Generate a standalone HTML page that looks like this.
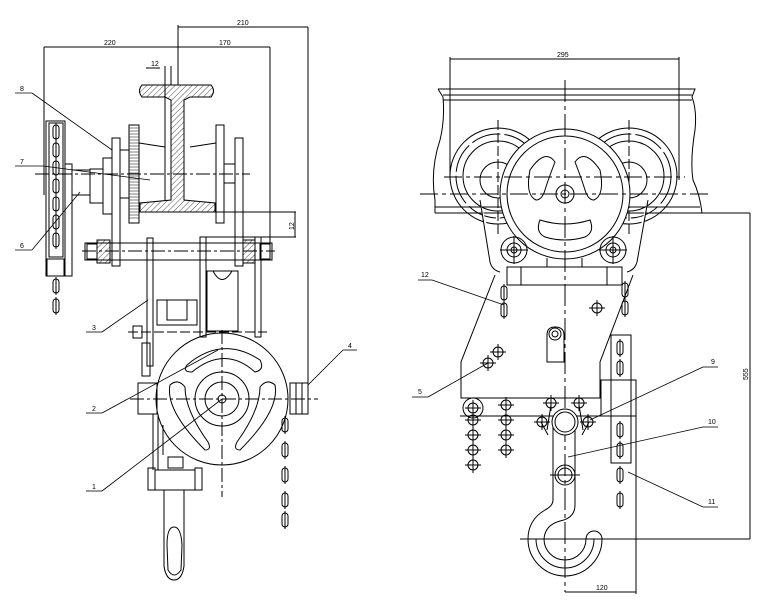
<!DOCTYPE html>
<html><head><style>
html,body{margin:0;padding:0;background:#fff;}
svg{display:block}
text{font-family:"Liberation Sans",sans-serif;font-size:7px;fill:#000}
</style></head><body>
<svg width="767" height="601" viewBox="0 0 767 601" xmlns="http://www.w3.org/2000/svg" fill="none" stroke="#000" stroke-width="1">
<defs>
<pattern id="h" width="4" height="4" patternUnits="userSpaceOnUse" patternTransform="rotate(45)"><line x1="0" y1="0" x2="0" y2="4" stroke="#000" stroke-width="0.7"/></pattern>
<g id="lnk"><rect x="-3" y="-7" width="6" height="14" rx="3"/><line x1="0" y1="-9" x2="0" y2="9"/></g>
<g id="bl"><circle r="5"/><line x1="-8" y1="0" x2="8" y2="0"/><line x1="0" y1="-8" x2="0" y2="8"/></g>
</defs>
<!-- ===== LEFT VIEW ===== -->
<line x1="178" y1="27" x2="308" y2="27"/><line x1="178" y1="25" x2="178" y2="85"/><line x1="308" y1="27" x2="308" y2="414"/>
<line x1="44" y1="47" x2="270" y2="47"/><line x1="44" y1="47" x2="44" y2="195"/><line x1="270" y1="47" x2="270" y2="250"/>
<text x="237" y="25" stroke="none">210</text><text x="104" y="45" stroke="none">220</text><text x="219" y="45" stroke="none">170</text>
<text x="151" y="66" stroke="none">12</text><line x1="146" y1="68" x2="160" y2="68"/>
<line x1="165" y1="66" x2="165" y2="200"/><line x1="171" y1="66" x2="171" y2="85"/>
<!-- I beam -->
<path d="M142 85 L211 85 Q216 91 211 97 L190 97 L184 100 L184 200 L215 203 L215 212 L140 212 L140 203 L171 200 L171 100 L165 97 L142 97 Q137 91 142 85Z" fill="url(#h)"/>
<line x1="139" y1="143" x2="165" y2="147"/><line x1="190" y1="147" x2="216" y2="143"/>
<!-- gear & plates -->
<rect x="129" y="125" width="10" height="98"/>
<path stroke-width="0.5" d="M129 128h10M129 131h10M129 134h10M129 137h10M129 140h10M129 143h10M129 146h10M129 149h10M129 152h10M129 155h10M129 158h10M129 161h10M129 164h10M129 167h10M129 170h10M129 173h10M129 176h10M129 179h10M129 182h10M129 185h10M129 188h10M129 191h10M129 194h10M129 197h10M129 200h10M129 203h10M129 206h10M129 209h10M129 212h10M129 215h10M129 218h10"/>
<rect x="112" y="138" width="8" height="128"/>
<rect x="103" y="158" width="9" height="56"/>
<rect x="90" y="169" width="13" height="34"/>
<rect x="216" y="125" width="8" height="98"/>
<rect x="235" y="138" width="8" height="128"/>
<rect x="224" y="164" width="11" height="19"/>
<line x1="120" y1="150" x2="129" y2="150"/><line x1="120" y1="198" x2="129" y2="198"/>
<line x1="72" y1="170" x2="90" y2="170"/><line x1="72" y1="195" x2="90" y2="195"/>
<line x1="35" y1="174" x2="250" y2="174" stroke-dasharray="14 3 3 3"/>
<line x1="215" y1="212" x2="296" y2="212"/><line x1="205" y1="237" x2="296" y2="237"/><line x1="295" y1="212" x2="295" y2="237"/>
<text x="294" y="230" stroke="none" transform="rotate(-90 294 230)">12</text>
<!-- left chain wheel -->
<rect x="46" y="121" width="19" height="155"/><rect x="65" y="164" width="7" height="112"/>
<rect x="47" y="259" width="17" height="17"/>
<rect x="49" y="123" width="14" height="134"/>
<use href="#lnk" x="56" y="132"/><use href="#lnk" x="56" y="150"/><use href="#lnk" x="56" y="168"/><use href="#lnk" x="56" y="186"/><use href="#lnk" x="56" y="204"/><use href="#lnk" x="56" y="222"/><use href="#lnk" x="56" y="240"/>
<use href="#lnk" x="56" y="286"/><use href="#lnk" x="56" y="306"/>
<!-- axle -->
<rect x="85" y="243" width="187" height="17"/>
<rect x="97" y="240" width="13" height="23" fill="url(#h)"/><rect x="243" y="240" width="12" height="23" fill="url(#h)"/>
<rect x="87" y="244" width="10" height="15"/><rect x="260" y="244" width="10" height="15"/>
<line x1="82" y1="251" x2="275" y2="251" stroke-dasharray="14 3 3 3"/>
<!-- hangers -->
<rect x="147" y="238" width="6" height="128"/><rect x="200" y="237" width="6" height="100"/><rect x="255" y="237" width="6" height="100"/>
<rect x="207" y="271" width="31" height="60"/><path d="M213 271 Q222 288 232 271"/>
<rect x="157" y="300" width="40" height="25"/><rect x="167" y="300" width="20" height="20"/>
<rect x="142" y="343" width="8" height="33"/>
<line x1="128" y1="332" x2="267" y2="332" stroke-dasharray="10 3"/>
<rect x="133" y="326" width="9" height="12"/>
<!-- big wheel -->
<circle cx="222" cy="399" r="66"/>
<circle cx="222" cy="399" r="27"/><circle cx="222" cy="399" r="17"/><circle cx="222" cy="399" r="4"/>
<path d="M187 365 Q222 335 260 360 Q265 370 255 372 Q225 345 192 372 Q182 372 187 365Z"/>
<path d="M170 385 Q165 410 205 450 Q212 450 208 442 Q185 410 185 387 Q178 378 170 385Z"/>
<path d="M275 385 Q280 410 240 450 Q233 450 237 442 Q260 410 260 387 Q267 378 275 385Z"/>
<rect x="138" y="383" width="19" height="31"/><rect x="290" y="383" width="18" height="31"/>
<line x1="296" y1="383" x2="296" y2="414"/><line x1="302" y1="383" x2="302" y2="414"/>
<line x1="130" y1="399" x2="318" y2="399" stroke-dasharray="14 3 3 3"/>
<line x1="222" y1="330" x2="222" y2="497" stroke-dasharray="14 3 3 3"/>
<line x1="153" y1="414" x2="153" y2="470"/><line x1="158" y1="414" x2="158" y2="470"/><line x1="163" y1="425" x2="163" y2="455"/>
<!-- right chain -->
<use href="#lnk" x="285" y="425"/><use href="#lnk" x="285" y="450"/><use href="#lnk" x="285" y="475"/><use href="#lnk" x="285" y="500"/><use href="#lnk" x="285" y="520"/>
<!-- hook block bottom -->
<rect x="155" y="470" width="40" height="20"/><rect x="148" y="468" width="7" height="22"/><rect x="195" y="468" width="7" height="22"/>
<rect x="168" y="457" width="15" height="11"/>
<path d="M164 490 L164 566 Q166 580 174 580 Q182 580 184 566 L184 490"/>
<path d="M167 545 Q167 527 174 527 Q181 527 182 545 L181 570 Q174 580 168 570Z"/>
<!-- leaders left -->
<g stroke-width="0.8">
<line x1="15" y1="93" x2="32" y2="93"/><line x1="32" y1="93" x2="112" y2="150"/>
<line x1="15" y1="166" x2="43" y2="166"/><line x1="43" y1="166" x2="150" y2="180"/>
<line x1="15" y1="250" x2="32" y2="250"/><line x1="32" y1="250" x2="80" y2="192"/>
<line x1="86" y1="332" x2="102" y2="332"/><line x1="102" y1="332" x2="148" y2="300"/>
<line x1="86" y1="413" x2="102" y2="413"/><line x1="102" y1="413" x2="218" y2="350"/>
<line x1="86" y1="491" x2="102" y2="491"/><line x1="102" y1="491" x2="222" y2="399"/>
<line x1="343" y1="350" x2="357" y2="350"/><line x1="343" y1="350" x2="308" y2="385"/>
</g>
<text x="20" y="91" stroke="none">8</text><text x="20" y="164" stroke="none">7</text><text x="20" y="248" stroke="none">6</text>
<text x="92" y="330" stroke="none">3</text><text x="92" y="411" stroke="none">2</text><text x="92" y="489" stroke="none">1</text>
<text x="348" y="348" stroke="none">4</text>

<!-- ===== RIGHT VIEW ===== -->
<line x1="450" y1="59" x2="679" y2="59"/><line x1="450" y1="57" x2="450" y2="180"/><line x1="679" y1="57" x2="679" y2="180"/>
<text x="557" y="57" stroke="none">295</text>
<!-- rail -->
<path d="M438 89 L695 89 L692 97 Q697 110 695 130 Q690 160 693 180 Q700 195 702 213"/>
<path d="M438 89 L443 97 Q445 120 440 140 Q430 170 435 200 L435 213"/>
<line x1="443" y1="95" x2="692" y2="95"/><line x1="443" y1="100" x2="692" y2="100"/>
<line x1="435" y1="207" x2="700" y2="207"/><line x1="435" y1="213" x2="750" y2="213"/>
<!-- rollers -->
<circle cx="498" cy="176" r="48"/><circle cx="498" cy="176" r="42" stroke-dasharray="30 4"/><circle cx="498" cy="176" r="35"/><circle cx="498" cy="180" r="18"/>
<circle cx="629" cy="176" r="48"/><circle cx="629" cy="176" r="42" stroke-dasharray="30 4"/><circle cx="629" cy="176" r="35"/><circle cx="629" cy="180" r="18"/>
<line x1="498" y1="120" x2="498" y2="235" stroke-dasharray="10 3"/><line x1="629" y1="120" x2="629" y2="235" stroke-dasharray="10 3"/>
<!-- side frame -->
<path d="M480 200 L490 262 Q492 270 500 272 M648 200 L637 262 Q635 270 627 272" fill="#fff"/>
<!-- big wheel -->
<circle cx="565" cy="194" r="65" fill="#fff"/><circle cx="565" cy="194" r="58"/>
<circle cx="565" cy="194" r="9"/><circle cx="565" cy="194" r="4"/>
<path d="M530 170 Q545 148 555 162 Q548 180 545 190 Q542 200 536 200 Q525 195 530 170Z"/>
<path d="M600 170 Q585 148 575 162 Q582 180 585 190 Q588 200 594 200 Q605 195 600 170Z"/>
<path d="M540 220 Q565 228 590 220 Q595 232 585 237 Q565 243 545 237 Q535 232 540 220Z"/>
<line x1="444" y1="177" x2="685" y2="177" stroke-dasharray="18 4 4 4"/>
<line x1="420" y1="194" x2="710" y2="194" stroke-dasharray="18 4 4 4"/>
<line x1="565" y1="80" x2="565" y2="592" stroke-dasharray="22 4 4 4"/>
<!-- bolts -->
<circle cx="514" cy="250" r="13"/><circle cx="514" cy="250" r="7"/><circle cx="514" cy="250" r="3"/><line x1="500" y1="250" x2="528" y2="250"/><line x1="514" y1="236" x2="514" y2="264"/>
<circle cx="613" cy="250" r="13"/><circle cx="613" cy="250" r="7"/><circle cx="613" cy="250" r="3"/><line x1="599" y1="250" x2="627" y2="250"/><line x1="613" y1="236" x2="613" y2="264"/>
<line x1="547" y1="258" x2="547" y2="267"/><line x1="582" y1="258" x2="582" y2="267"/>
<!-- body -->
<path d="M495 275 L461 362 L461 398 L600 398 L600 362 L633 275"/>
<rect x="507" y="267" width="115" height="18"/><line x1="521" y1="267" x2="521" y2="285"/><line x1="607" y1="267" x2="607" y2="285"/>
<use href="#lnk" x="504" y="293"/><use href="#lnk" x="504" y="310"/>
<use href="#lnk" x="625" y="290"/><use href="#lnk" x="625" y="308"/>
<use href="#bl" x="597" y="308"/><use href="#bl" x="498" y="352"/><use href="#bl" x="488" y="363"/>
<path d="M547 362 L547 335 Q547 327 555 327 Q564 327 564 335 L564 362 Z"/><circle cx="555" cy="334" r="6"/><circle cx="555" cy="334" r="3"/>
<!-- right box & chain -->
<rect x="601" y="380" width="35" height="36"/>
<rect x="611" y="335" width="20" height="128"/>
<use href="#lnk" x="620" y="348"/><use href="#lnk" x="620" y="368"/><use href="#lnk" x="620" y="430"/><use href="#lnk" x="620" y="450"/><use href="#lnk" x="620" y="475"/><use href="#lnk" x="620" y="500"/>
<line x1="460" y1="416" x2="636" y2="416"/>
<!-- small chains -->
<circle cx="473" cy="408" r="10"/>
<use href="#bl" x="473" y="408"/><use href="#bl" x="473" y="420"/><use href="#bl" x="473" y="435"/><use href="#bl" x="473" y="450"/><use href="#bl" x="473" y="465"/>
<use href="#bl" x="506" y="405"/><use href="#bl" x="506" y="420"/><use href="#bl" x="506" y="435"/><use href="#bl" x="506" y="450"/>
<!-- hook -->
<path d="M547 430 L551 405 M583 430 L579 405 M541 422 L548 435 M589 422 L582 435"/>
<use href="#bl" x="551" y="403"/><use href="#bl" x="579" y="403"/><use href="#bl" x="542" y="422"/><use href="#bl" x="588" y="422"/>
<path d="M553 422 L553 500 Q553 506 545 510 Q528 520 528 539 A37 37 0 0 0 602 539 A8 8 0 0 0 586 539 A21 21 0 0 1 544 539 Q545 525 560 521 Q575 518 575 505 L575 422"/>
<path d="M536 539 A29 29 0 0 0 594 539"/>
<circle cx="565" cy="422" r="13" fill="#fff"/><circle cx="565" cy="422" r="10"/>
<circle cx="565" cy="475" r="10"/><circle cx="565" cy="475" r="7"/><line x1="550" y1="475" x2="580" y2="475"/>
<line x1="520" y1="539" x2="750" y2="539"/>
<!-- dims -->
<line x1="750" y1="213" x2="750" y2="539"/>
<text x="748" y="380" stroke="none" transform="rotate(-90 748 380)">555</text>
<line x1="636" y1="416" x2="636" y2="594"/><line x1="565" y1="592" x2="636" y2="592"/>
<text x="596" y="590" stroke="none">120</text>
<!-- leaders right -->
<g stroke-width="0.8">
<line x1="418" y1="280" x2="432" y2="280"/><line x1="432" y1="280" x2="504" y2="305"/>
<line x1="412" y1="397" x2="428" y2="397"/><line x1="428" y1="397" x2="488" y2="363"/>
<line x1="703" y1="367" x2="718" y2="367"/><line x1="703" y1="367" x2="590" y2="420"/>
<line x1="703" y1="427" x2="718" y2="427"/><line x1="703" y1="427" x2="568" y2="457"/>
<line x1="703" y1="507" x2="718" y2="507"/><line x1="703" y1="507" x2="628" y2="472"/>
</g>
<text x="421" y="277" stroke="none">12</text><text x="418" y="394" stroke="none">5</text>
<text x="711" y="364" stroke="none">9</text><text x="708" y="424" stroke="none">10</text><text x="708" y="504" stroke="none">11</text>
</svg>
</body></html>
